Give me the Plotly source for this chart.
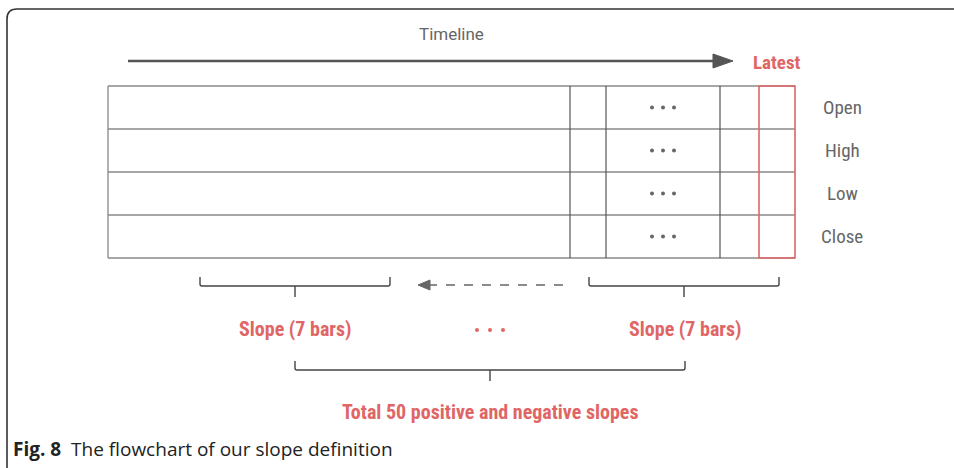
import plotly.graph_objects as go

# ---- content ----
row_labels = ["Open", "High", "Low", "Close"]
timeline_label = "Timeline"
latest_label = "Latest"
slope_labels = ["Slope (7 bars)", "Slope (7 bars)"]
total_label = "Total 50 positive and negative slopes"
caption_bold = "Fig. 8"
caption_text = "The flowchart of our slope definition"

# ---- layout geometry (pixel space of the 954x468 canvas) ----
W, H = 954, 468
RED = "#E06666"
GRAY = "#666666"
DARK = "#444444"
NARROW = "Liberation Sans Narrow, Arial Narrow, Roboto Condensed, Liberation Sans, Arial"

tbl_left, tbl_right = 108, 795
row_edges = [86, 129, 172, 215, 258]
col_lines = [570, 606, 720]
latest_col = (759, 795)
dots_x = 663
label_x = 842

shapes = []
# frame (rounded top-left corner)
shapes.append(dict(type="path", path=f"M 7,{H} L 7,19 Q 7,9 17,9 L {W},9",
                   line=dict(color="#333333", width=1.6)))
# table outer + row lines
for y in row_edges:
    shapes.append(dict(type="line", x0=tbl_left, x1=tbl_right, y0=y, y1=y,
                       line=dict(color="#888888", width=1.3)))
shapes.append(dict(type="line", x0=tbl_left, x1=tbl_left, y0=row_edges[0], y1=row_edges[-1],
                   line=dict(color="#888888", width=1.3)))
for x in col_lines:
    shapes.append(dict(type="line", x0=x, x1=x, y0=row_edges[0], y1=row_edges[-1],
                       line=dict(color="#555555", width=1.2)))
shapes.append(dict(type="rect", x0=latest_col[0], x1=latest_col[1], y0=row_edges[0], y1=row_edges[-1],
                   line=dict(color=RED, width=1.6)))
# timeline arrow
shapes.append(dict(type="line", x0=128, x1=716, y0=61, y1=61, line=dict(color="#555555", width=2.5)))
shapes.append(dict(type="path", path="M 713,54 L 733,61 L 713,68 Z",
                   fillcolor="#555555", line=dict(color="#555555", width=1)))
# brackets
def bracket(x0, x1, ytop, ybar, ytick):
    xm = (x0 + x1) / 2
    shapes.append(dict(type="path",
                       path=f"M {x0},{ytop} L {x0},{ybar-2} Q {x0},{ybar} {x0+2},{ybar} "
                            f"L {x1-2},{ybar} Q {x1},{ybar} {x1},{ybar-2} L {x1},{ytop}",
                       line=dict(color=DARK, width=1.4)))
    shapes.append(dict(type="line", x0=xm, x1=xm, y0=ybar, y1=ytick, line=dict(color=DARK, width=1.4)))

bracket(200, 390, 277, 286, 297)
bracket(589, 779, 277, 286, 297)
bracket(295, 685, 361, 370, 381)
# dashed arrow (pointing left)
shapes.append(dict(type="line", x0=563, x1=430, y0=285, y1=285,
                   line=dict(color=GRAY, width=1.5, dash="dash")))
shapes.append(dict(type="path", path="M 418,285 L 430,280 L 430,290 Z",
                   fillcolor=GRAY, line=dict(color=GRAY, width=1)))

fig = go.Figure()

# dots inside the table (one row of three dots per OHLC row)
row_centers = [(row_edges[i] + row_edges[i + 1]) / 2 for i in range(len(row_labels))]
dx, dy = [], []
for yc in row_centers:
    for k in (-11, 0, 11):
        dx.append(dots_x + k)
        dy.append(yc)
fig.add_trace(go.Scatter(x=dx, y=dy, mode="markers",
                         marker=dict(size=4, color=GRAY), hoverinfo="skip", showlegend=False))
# red dots between slopes
fig.add_trace(go.Scatter(x=[477, 490, 503], y=[330, 330, 330], mode="markers",
                         marker=dict(size=4, color=RED), hoverinfo="skip", showlegend=False))

ann = []
ann.append(dict(x=451, y=34, text=timeline_label, font=dict(family="Roboto, Arial", size=17, color=GRAY)))
ann.append(dict(x=777, y=62, text=f"<b>{latest_label}</b>", font=dict(family=NARROW, size=19, color=RED)))
for lab, yc in zip(row_labels, row_centers):
    ann.append(dict(x=label_x, y=yc, text=lab, font=dict(family=NARROW, size=19, color=GRAY)))
for lab, xc in zip(slope_labels, [295, 685]):
    ann.append(dict(x=xc, y=329, text=f"<b>{lab}</b>", font=dict(family=NARROW, size=20, color=RED)))
ann.append(dict(x=490, y=412, text=f"<b>{total_label}</b>", font=dict(family=NARROW, size=20, color=RED)))
ann.append(dict(x=11, y=449, xanchor="left",
                text=f"<b>{caption_bold}</b>  {caption_text}",
                font=dict(family="Open Sans, Noto Sans", size=19, color="#222222")))
for a in ann:
    a.setdefault("xanchor", "center")
    a.update(xref="x", yref="y", yanchor="middle", showarrow=False)

fig.update_layout(
    width=W, height=H, margin=dict(l=0, r=0, t=0, b=0),
    paper_bgcolor="white", plot_bgcolor="white",
    xaxis=dict(range=[0, W], visible=False, fixedrange=True),
    yaxis=dict(range=[H, 0], visible=False, fixedrange=True),
    shapes=shapes, annotations=ann, showlegend=False,
)
fig.write_html("out.html", config={"displayModeBar": False},
               post_script="document.body.style.margin='0';")
